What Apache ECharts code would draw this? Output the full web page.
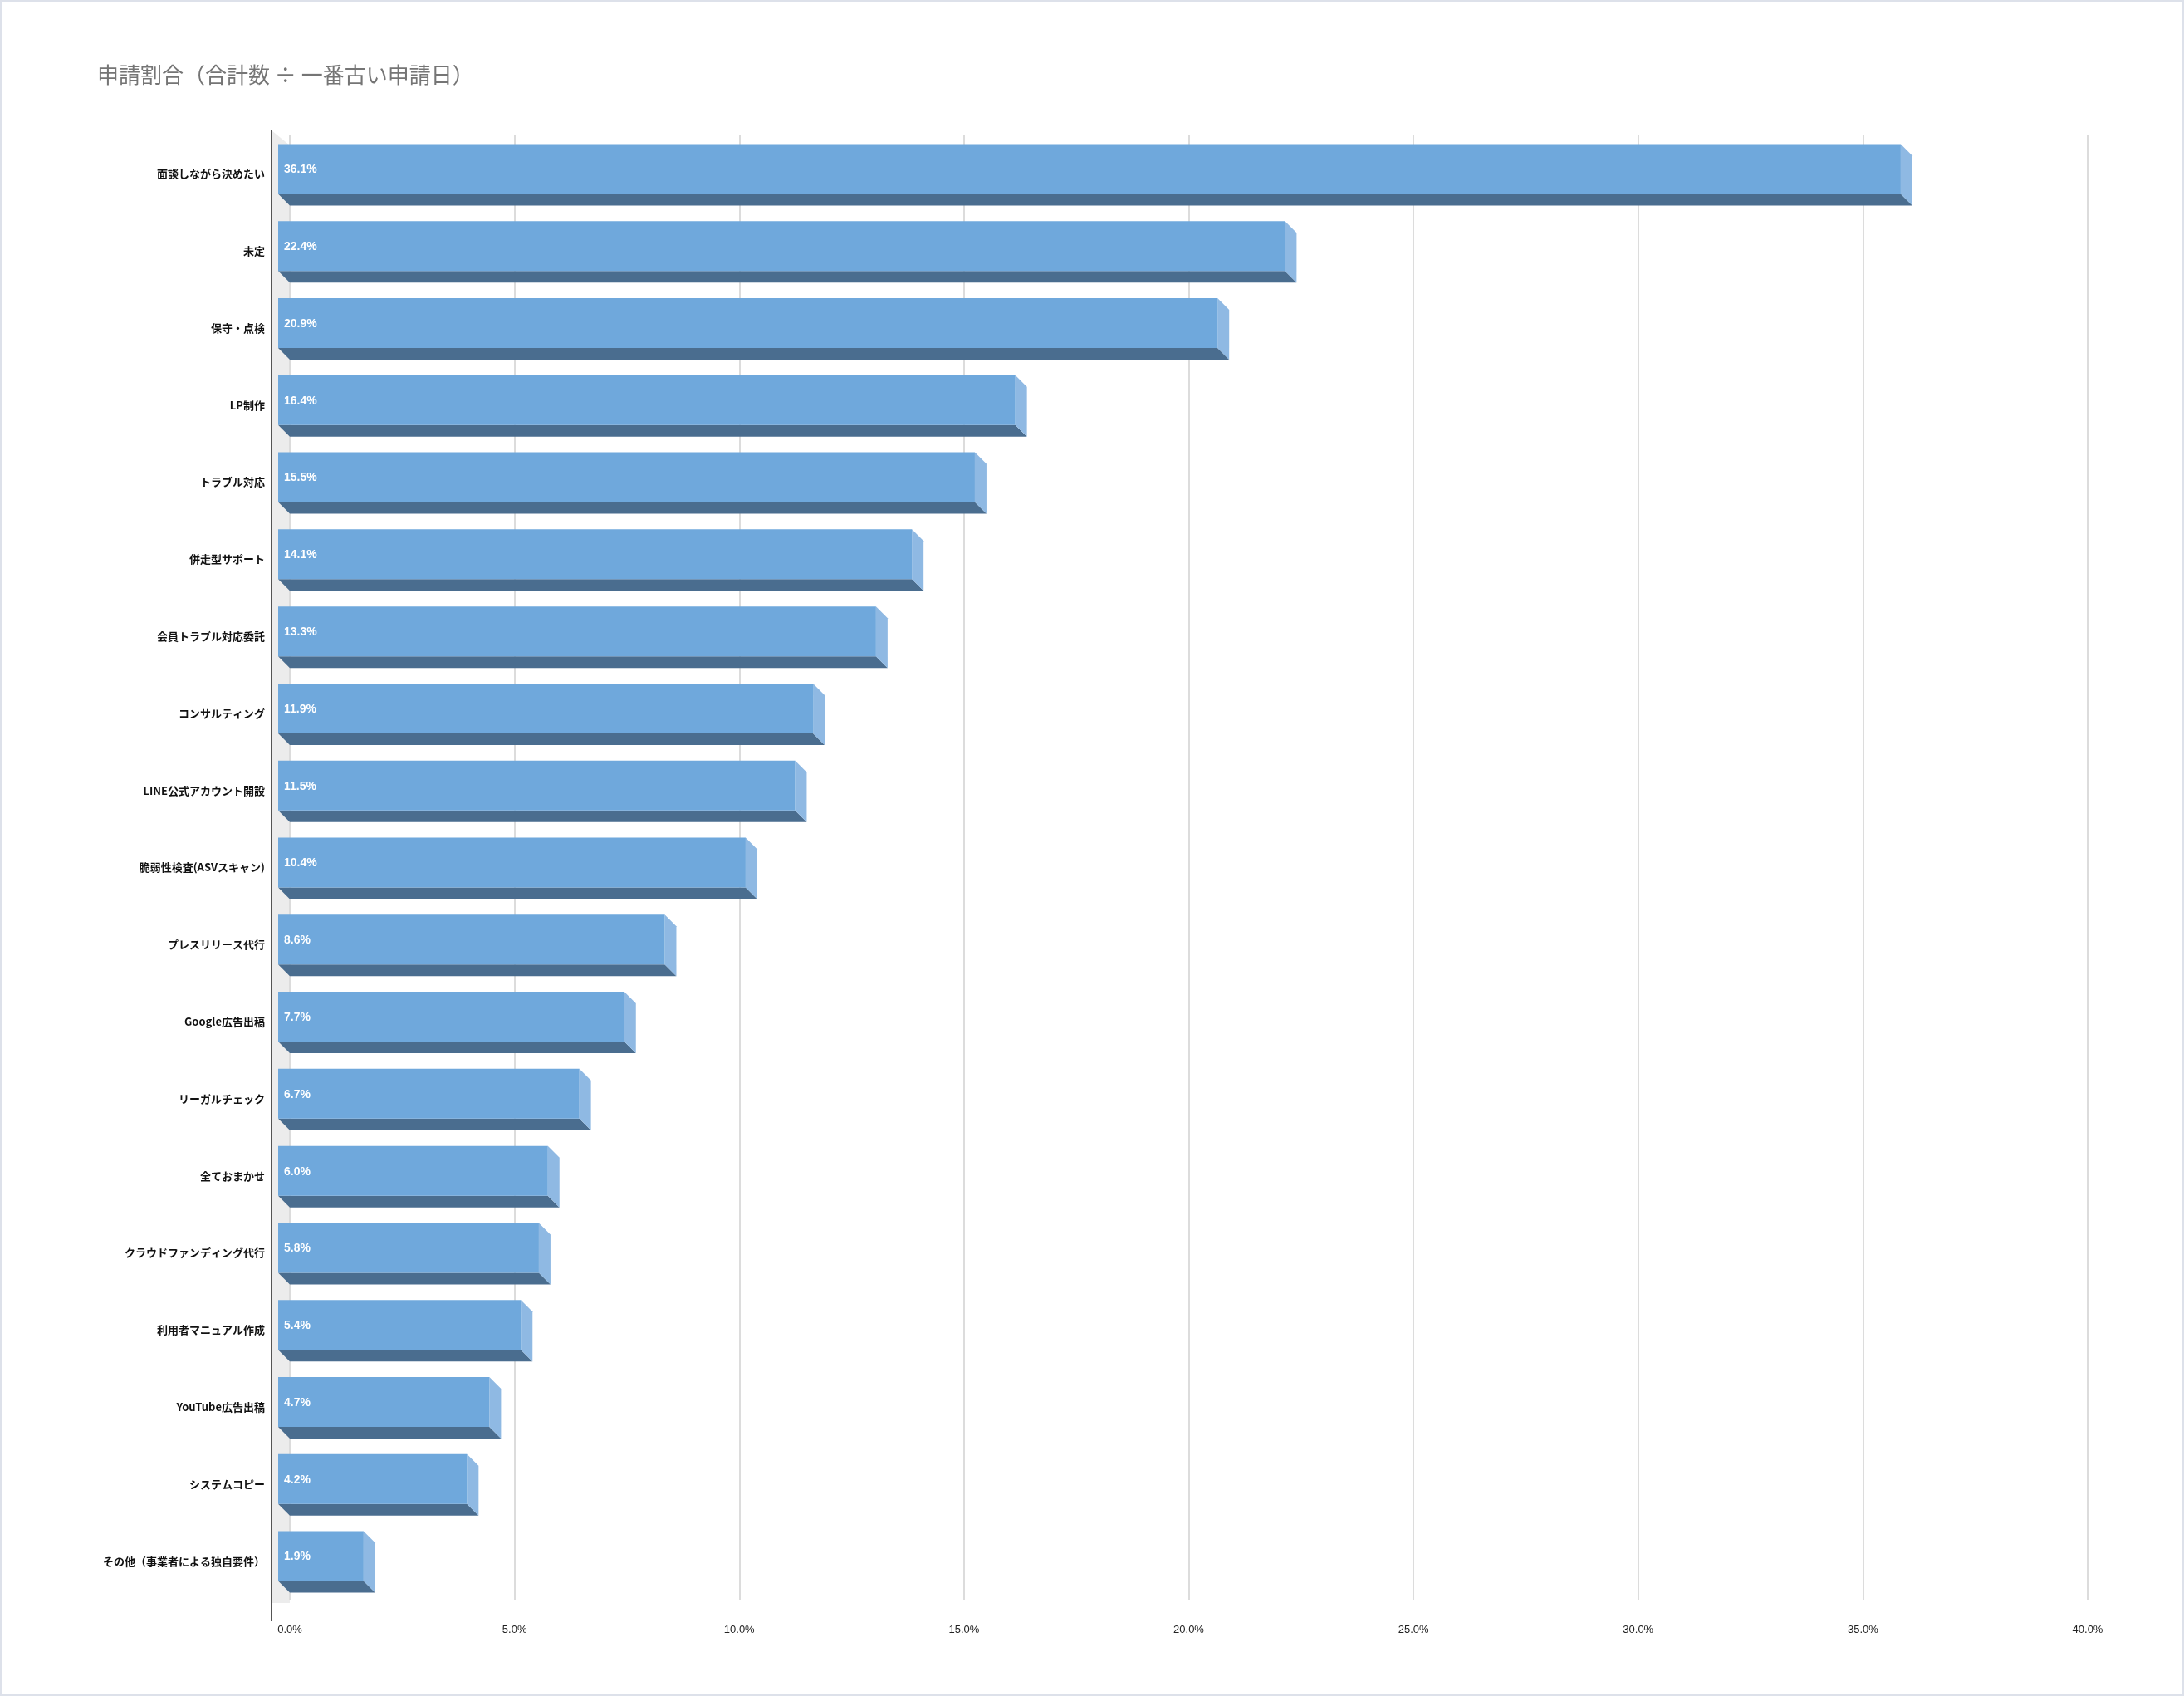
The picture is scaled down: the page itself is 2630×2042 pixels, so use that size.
<!DOCTYPE html>
<html>
<head>
<meta charset="utf-8">
<script src="https://cdn.jsdelivr.net/npm/echarts@6/dist/echarts.min.js"></script>
<style>
html,body{margin:0;padding:0;background:#fff;}
#main{width:2626px;height:2038px;border:2px solid #dde1ea;}
</style>
</head>
<body>
<div id="main"></div>
<script>
var categories = ['面談しながら決めたい','未定','保守・点検','LP制作','トラブル対応','併走型サポート','会員トラブル対応委託','コンサルティング','LINE公式アカウント開設','脆弱性検査(ASVスキャン)','プレスリリース代行','Google広告出稿','リーガルチェック','全ておまかせ','クラウドファンディング代行','利用者マニュアル作成','YouTube広告出稿','システムコピー','その他（事業者による独自要件）'];
var values = [36.1,22.4,20.9,16.4,15.5,14.1,13.3,11.9,11.5,10.4,8.6,7.7,6.7,6.0,5.8,5.4,4.7,4.2,1.9];

var D = 14; // depth of the 3d look
var chart = echarts.init(document.getElementById('main'));

function renderBar(params, api){
  var v = api.value(0), i = api.value(1);
  var p0 = api.coord([0, i]), p1 = api.coord([v, i]);
  var yc = p0[1] - 6;
  var x0 = p0[0] - D, x1 = p1[0] - D;
  var yT = yc - 30, yB = yc + 30;
  return {
    type:'group',
    children:[
      {type:'polygon', shape:{points:[[x0,yB],[x1,yB],[x1+D,yB+D],[x0+D,yB+D]]}, style:{fill:'#4a6d8f'}},
      {type:'polygon', shape:{points:[[x1,yT],[x1+D,yT+D],[x1+D,yB+D],[x1,yB]]}, style:{fill:'#8fb9e3'}},
      {type:'rect', shape:{x:x0, y:yT, width:x1-x0, height:yB-yT}, style:{fill:'#6fa8dc'}},
      {type:'text', style:{text:v.toFixed(1)+'%', x:x0+7, y:yc+1, verticalAlign:'middle', fill:'#fff', font:'bold 14px "Liberation Sans", Arial, sans-serif'}}
    ]
  };
}

var data = values.map(function(v, i){ return [v, i]; });

chart.setOption({
  animation:false,
  title:{text:'申請割合（合計数 ÷ 一番古い申請日）', left:110, top:70,
    textStyle:{fontSize:26, fontWeight:'normal', color:'#757575', fontFamily:'"Noto Sans CJK JP", sans-serif'}},
  grid:{left:347, right:114, top:161, bottom:114},
  graphic:[
    {type:'polygon', shape:{points:[[325,155],[347,173],[347,1928],[325,1928]]}, style:{fill:'#ececec'}, z:-1},
    {type:'line', shape:{x1:325, y1:155, x2:325, y2:1950}, style:{stroke:'#555', lineWidth:2}}
  ],
  xAxis:{type:'value', min:0, max:40, interval:5,
    axisLine:{show:false}, axisTick:{show:false},
    splitLine:{lineStyle:{color:'#dcdcdc', width:2}},
    axisLabel:{formatter:function(v){return v.toFixed(1)+'%';}, fontSize:13, color:'#222', margin:30,
      fontFamily:'"Liberation Sans", Arial, sans-serif'}},
  yAxis:{type:'category', data:categories, inverse:true, offset:22,
    axisLine:{show:false},
    axisTick:{show:true, length:8, alignWithLabel:true, interval:0, lineStyle:{color:'#b04a7a', width:1.5}},
    axisLabel:{fontSize:13, fontWeight:'bold', color:'#111', margin:8, interval:0,
      fontFamily:'"Noto Sans CJK JP", sans-serif'}},
  series:[{type:'custom', renderItem:renderBar, data:data, encode:{x:0, y:1}}]
});
</script>
</body>
</html>
